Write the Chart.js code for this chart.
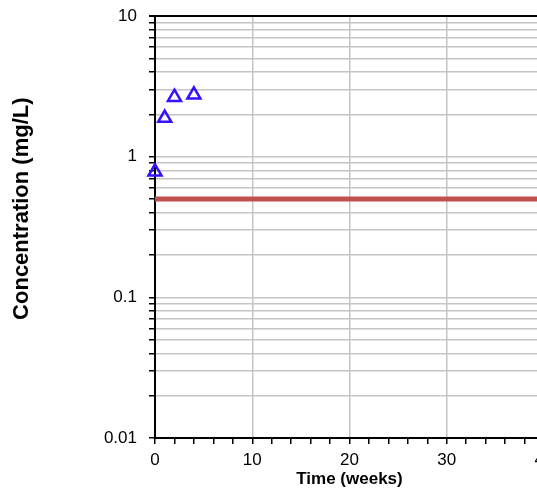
<!DOCTYPE html>
<html lang="en">
<head>
  <meta charset="UTF-8">
  <title>Concentration over time</title>
  <style>
    html, body { margin: 0; padding: 0; background: #fff; overflow: hidden; }
    #wrap { width: 600px; height: 498px; }
  </style>
</head>
<body>
  <div id="wrap">
    <canvas id="concChart" width="600" height="498"></canvas>
  </div>

  <script src="https://cdn.jsdelivr.net/npm/chart.js"></script>
  <script>
    // measured samples (triangles)
    const sampleWeeks = [0, 1, 2, 4];
    const sampleConc = [0.78, 1.88, 2.65, 2.75];

    // limit line
    const limitWeeks = [0, 40];
    const limitConc = [0.5, 0.5];

    // axes
    const yMajorTicks = [0.01, 0.1, 1, 10];
    const yMinorSteps = [2, 3, 4, 5, 6, 7, 8, 9];
    const xMin = 0, xMax = 40, xStep = 2, xLabelEvery = 10;

    // every log grid line: majors plus 2..9 within each decade
    const yTicks = [];
    yMajorTicks.forEach((m, i) => {
      yTicks.push(m);
      if (i < yMajorTicks.length - 1) {
        yMinorSteps.forEach(s => yTicks.push(+(m * s).toPrecision(3)));
      }
    });

    const family = 'Liberation Sans, Arial, sans-serif';
    const tickFont = { family: family, size: 17 };

    new Chart(document.getElementById('concChart'), {
      type: 'scatter',
      data: {
        datasets: [
          {
            type: 'line',
            data: limitWeeks.map((x, i) => ({ x: x, y: limitConc[i] })),
            borderColor: '#c0504d',
            borderWidth: 5,
            pointRadius: 0,
            clip: false
          },
          {
            data: sampleWeeks.map((x, i) => ({ x: x, y: sampleConc[i] })),
            pointStyle: 'triangle',
            pointRadius: 7.5,
            borderColor: '#3311ff',
            backgroundColor: 'rgba(0,0,0,0)',
            pointBorderWidth: 2.5,
            clip: false
          }
        ]
      },
      options: {
        responsive: false,
        animation: false,
        layout: { padding: { top: 16, right: 56, left: 0, bottom: 0 } },
        plugins: {
          legend: { display: false },
          tooltip: { enabled: false }
        },
        scales: {
          x: {
            type: 'linear',
            min: xMin,
            max: xMax,
            afterFit: s => { s.height = 60; },
            border: { color: '#000', width: 2 },
            grid: {
              color: c => (c.tick.value % xLabelEvery === 0 && c.tick.value > xMin && c.tick.value < xMax) ? '#c4c4c4' : 'rgba(0,0,0,0)',
              lineWidth: 1.5,
              tickColor: '#000',
              tickLength: 6
            },
            ticks: {
              stepSize: xStep,
              autoSkip: false,
              maxRotation: 0,
              padding: 6,
              color: '#000',
              font: tickFont,
              callback: v => (v % xLabelEvery === 0 ? String(v) : '')
            },
            title: {
              display: true,
              text: 'Time (weeks)',
              color: '#000',
              font: { family: family, size: 17, weight: 'bold' },
              padding: { top: 0, bottom: 8 }
            }
          },
          y: {
            type: 'logarithmic',
            min: 0.01,
            max: 10,
            afterFit: s => {
              s.width = 155;
              // labels may hang over the top edge
              s.paddingTop = 0;
              s.paddingBottom = 0;
            },
            afterBuildTicks: s => { s.ticks = yTicks.map(v => ({ value: v })); },
            border: { color: '#000', width: 2 },
            grid: {
              color: c => (c.tick.value === 10 ? '#000' : '#c4c4c4'),
              lineWidth: c => (c.tick.value === 10 ? 2 : 1.5),
              tickColor: '#000',
              tickLength: 6
            },
            ticks: {
              autoSkip: false,
              padding: 12,
              color: '#000',
              font: tickFont,
              callback: v => (yMajorTicks.includes(v) ? String(v) : '')
            },
            title: {
              display: true,
              // leading spaces nudge the label up, as in the original
              text: '      Concentration (mg/L)',
              color: '#000',
              font: { family: family, size: 22, weight: 'bold' },
              padding: { top: 9, bottom: 0 }
            }
          }
        }
      }
    });
  </script>
</body>
</html>
